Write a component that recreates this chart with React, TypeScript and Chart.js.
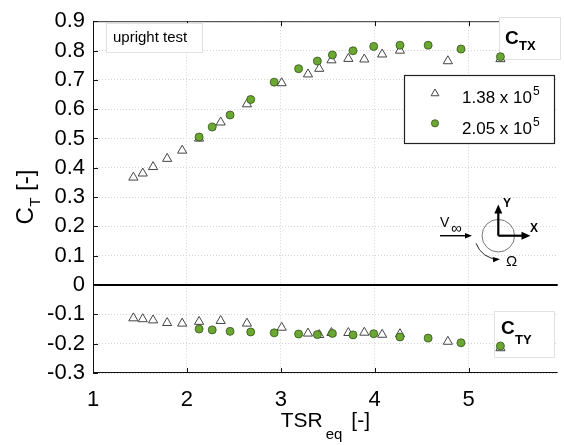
import React, { useEffect, useRef } from 'react';
import { Chart, registerables } from 'chart.js';

Chart.register(...registerables);

// ---- data ----
const tsrLow = [1.43, 1.53, 1.64, 1.79, 1.95, 2.13, 2.36, 2.64, 3.01, 3.29, 3.41, 3.54, 3.72, 3.89, 4.08, 4.27, 4.78, 5.34];
const ctxLow = [0.367, 0.381, 0.403, 0.431, 0.459, 0.5, 0.555, 0.617, 0.689, 0.719, 0.738, 0.767, 0.772, 0.77, 0.787, 0.8, 0.764, 0.771];
const ctyLow = [-0.113, -0.116, -0.12, -0.129, -0.131, -0.125, -0.122, -0.131, -0.145, -0.165, -0.17, -0.163, -0.163, -0.162, -0.169, -0.167, -0.193, -0.215];

const tsrHigh = [2.13, 2.27, 2.46, 2.68, 2.93, 3.19, 3.39, 3.55, 3.77, 3.99, 4.27, 4.57, 4.92, 5.34];
const ctxHigh = [0.505, 0.539, 0.58, 0.633, 0.692, 0.738, 0.764, 0.785, 0.799, 0.814, 0.818, 0.818, 0.805, 0.779];
const ctyHigh = [-0.15, -0.153, -0.158, -0.16, -0.163, -0.167, -0.169, -0.165, -0.17, -0.166, -0.177, -0.181, -0.197, -0.208];

const xTicks = [1, 2, 3, 4, 5];
const yTicks = [-0.3, -0.2, -0.1, 0, 0.1, 0.2, 0.3, 0.4, 0.5, 0.6, 0.7, 0.8, 0.9];
const seriesLabels = ['1.38 x 10', '2.05 x 10'];
const seriesExp = '5';

const FONT = '"Liberation Sans", Arial, Helvetica, sans-serif';
const GREEN = '#6aa832';
const GREEN_EDGE = '#34521a';

function line(ctx: CanvasRenderingContext2D, x1: number, y1: number, x2: number, y2: number) {
  ctx.beginPath();
  ctx.moveTo(x1, y1);
  ctx.lineTo(x2, y2);
  ctx.stroke();
}

function arrowHead(ctx: CanvasRenderingContext2D, tx: number, ty: number, ang: number, len: number, wid: number) {
  const c = Math.cos(ang), s = Math.sin(ang);
  const bx = tx - c * len, by = ty - s * len;
  ctx.beginPath();
  ctx.moveTo(tx, ty);
  ctx.lineTo(bx - s * wid / 2, by + c * wid / 2);
  ctx.lineTo(bx + s * wid / 2, by - c * wid / 2);
  ctx.closePath();
  ctx.fill();
}

function triangle(ctx: CanvasRenderingContext2D, cx: number, cy: number, r: number) {
  ctx.beginPath();
  ctx.moveTo(cx, cy - r);
  ctx.lineTo(cx + r * Math.sin((2 * Math.PI) / 3), cy + r * 0.5);
  ctx.lineTo(cx - r * Math.sin((2 * Math.PI) / 3), cy + r * 0.5);
  ctx.closePath();
}

const decor = {
  id: 'decor',
  beforeDatasetsDraw(chart: any) {
    const { ctx, chartArea: a, scales } = chart;
    const x = scales.x, y = scales.y;
    ctx.save();
    // zero line
    const y0 = y.getPixelForValue(0);
    ctx.strokeStyle = '#000';
    ctx.lineWidth = 2;
    line(ctx, a.left, y0, a.right, y0);
    // axes frame
    ctx.lineWidth = 1;
    ctx.strokeStyle = '#111';
    line(ctx, a.left + 0.5, a.top, a.left + 0.5, a.bottom);
    line(ctx, a.left, a.bottom - 0.5, a.right, a.bottom - 0.5);
    ctx.strokeStyle = '#333';
    line(ctx, a.left, a.top + 0.5, a.right, a.top + 0.5);
    // inward ticks
    ctx.strokeStyle = '#111';
    yTicks.forEach((v) => {
      const py = Math.round(y.getPixelForValue(v)) + 0.5;
      line(ctx, a.left, py, a.left + 5, py);
    });
    xTicks.forEach((v) => {
      const px = Math.round(x.getPixelForValue(v)) + 0.5;
      line(ctx, px, a.bottom, px, a.bottom - 5);
      line(ctx, px, a.top, px, a.top + 5);
    });

    // "upright test" box
    ctx.fillStyle = '#fff';
    ctx.strokeStyle = '#e2e2e2';
    ctx.fillRect(106, 23, 96, 29);
    ctx.strokeRect(106.5, 23.5, 96, 29);
    ctx.fillStyle = '#000';
    ctx.font = `15px ${FONT}`;
    ctx.textBaseline = 'alphabetic';
    ctx.textAlign = 'left';
    ctx.fillText('upright test', 113, 42);

    // C_TX box
    ctx.fillStyle = '#fff';
    ctx.fillRect(499, 17, 61, 42);
    ctx.strokeStyle = '#e2e2e2';
    ctx.strokeRect(499.5, 17.5, 61, 42);
    ctx.fillStyle = '#000';
    ctx.font = `bold 19px ${FONT}`;
    ctx.fillText('C', 505, 43.5);
    ctx.font = `bold 13px ${FONT}`;
    ctx.fillText('TX', 519, 49.5);

    // C_TY box
    ctx.fillStyle = '#fff';
    ctx.fillRect(494, 311, 60, 46);
    ctx.strokeStyle = '#e2e2e2';
    ctx.strokeRect(494.5, 311.5, 60, 46);
    ctx.fillStyle = '#000';
    ctx.font = `bold 19px ${FONT}`;
    ctx.fillText('C', 501, 333.5);
    ctx.font = `bold 13px ${FONT}`;
    ctx.fillText('TY', 515, 343.5);

    // coordinate system sketch
    const cx = 498.3, cy = 235.7;
    ctx.fillStyle = '#000';
    ctx.strokeStyle = '#000';
    ctx.font = `14px ${FONT}`;
    ctx.fillText('V', 440, 227);
    ctx.font = `15px ${FONT}`;
    ctx.fillText('\u221e', 451, 233);
    ctx.lineWidth = 1.4;
    line(ctx, 440, cy, 466, cy);
    arrowHead(ctx, 472, cy, 0, 7, 5.5);
    ctx.strokeStyle = '#777';
    ctx.lineWidth = 1;
    ctx.beginPath();
    ctx.arc(cx, cy, 16.3, 0, Math.PI * 2);
    ctx.stroke();
    ctx.strokeStyle = '#000';
    ctx.lineWidth = 2.2;
    line(ctx, cx, cy, cx, 212);
    arrowHead(ctx, cx, 204.5, -Math.PI / 2, 9, 8);
    line(ctx, cx, cy, 522, cy);
    arrowHead(ctx, 530.5, cy, 0, 9, 8);
    ctx.font = `bold 12px ${FONT}`;
    ctx.fillText('Y', 503, 207);
    ctx.fillText('X', 530, 232);
    // rotation arrow
    ctx.strokeStyle = '#222';
    ctx.lineWidth = 1;
    const R = 23.5;
    const a0 = (161 * Math.PI) / 180, a1 = (90 * Math.PI) / 180;
    ctx.beginPath();
    ctx.arc(cx, cy, R, a0, a1, true);
    ctx.stroke();
    const ta = (86 * Math.PI) / 180;
    arrowHead(ctx, cx + R * Math.cos(ta), cy + R * Math.sin(ta), Math.atan2(-Math.cos(ta), Math.sin(ta)), 7, 5.5);
    ctx.font = `15px ${FONT}`;
    ctx.fillText('\u03a9', 506, 265.5);
    ctx.restore();
  },
  afterDatasetsDraw(chart: any) {
    const { ctx, chartArea: a } = chart;
    ctx.save();
    // legend
    ctx.fillStyle = '#fff';
    ctx.fillRect(404, 75, 150, 68);
    ctx.strokeStyle = '#222';
    ctx.lineWidth = 1.2;
    ctx.strokeRect(404.5, 75.5, 150, 68);
    // triangle entry
    triangle(ctx, 435, 93.5, 4.5);
    ctx.fillStyle = '#fff';
    ctx.fill();
    ctx.strokeStyle = '#444';
    ctx.lineWidth = 1;
    ctx.stroke();
    // circle entry
    ctx.beginPath();
    ctx.arc(435, 123.3, 3.6, 0, Math.PI * 2);
    ctx.fillStyle = GREEN;
    ctx.fill();
    ctx.strokeStyle = GREEN_EDGE;
    ctx.lineWidth = 0.8;
    ctx.stroke();
    ctx.fillStyle = '#000';
    ctx.textAlign = 'left';
    ctx.textBaseline = 'alphabetic';
    [0, 1].forEach((i) => {
      const by = i === 0 ? 103 : 133.5;
      ctx.font = `17px ${FONT}`;
      ctx.fillText(seriesLabels[i], 462, by);
      const w = ctx.measureText(seriesLabels[i]).width;
      ctx.font = `12px ${FONT}`;
      ctx.fillText(seriesExp, 462 + w + 1, by - 8);
    });

    // x-axis title: TSR_eq [-]
    const midX = (a.left + a.right) / 2;
    ctx.font = `21px ${FONT}`;
    const wT = ctx.measureText('TSR').width;
    const wB = ctx.measureText('[-]').width;
    ctx.font = `15px ${FONT}`;
    const wE = ctx.measureText('eq').width;
    const total = wT + 3 + wE + 9 + wB;
    let sx = midX - total / 2;
    ctx.font = `21px ${FONT}`;
    ctx.fillText('TSR', sx, 427);
    ctx.font = `15px ${FONT}`;
    ctx.fillText('eq', sx + wT + 3, 439);
    ctx.font = `21px ${FONT}`;
    ctx.fillText('[-]', sx + wT + 3 + wE + 9, 427);

    // y-axis title: C_T [-] (rotated)
    ctx.save();
    ctx.translate(33, 197);
    ctx.rotate(-Math.PI / 2);
    ctx.font = `24px ${FONT}`;
    const wC = ctx.measureText('C').width;
    const wBr = ctx.measureText('[-]').width;
    ctx.font = `15px ${FONT}`;
    const wSub = ctx.measureText('T').width;
    const tot = wC + wSub + 7 + wBr;
    const s0 = -tot / 2;
    ctx.font = `24px ${FONT}`;
    ctx.fillText('C', s0, 0);
    ctx.font = `15px ${FONT}`;
    ctx.fillText('T', s0 + wC + 0.5, 7);
    ctx.font = `24px ${FONT}`;
    ctx.fillText('[-]', s0 + wC + wSub + 7, 0);
    ctx.restore();
    ctx.restore();
  },
};

export default function App() {
  const ref = useRef<HTMLCanvasElement>(null);
  useEffect(() => {
    const canvas = ref.current!;
    const chart = new Chart(canvas, {
      type: 'scatter',
      data: {
        datasets: [
          {
            label: seriesLabels[0] + ' CTX',
            data: tsrLow.map((x, i) => ({ x, y: ctxLow[i] })),
            pointStyle: 'triangle',
            pointRadius: 5.3,
            backgroundColor: '#fff',
            borderColor: '#444',
            borderWidth: 1,
            order: 2,
          },
          {
            label: seriesLabels[0] + ' CTY',
            data: tsrLow.map((x, i) => ({ x, y: ctyLow[i] })),
            pointStyle: 'triangle',
            pointRadius: 5.3,
            backgroundColor: '#fff',
            borderColor: '#444',
            borderWidth: 1,
            order: 2,
          },
          {
            label: seriesLabels[1] + ' CTX',
            data: tsrHigh.map((x, i) => ({ x, y: ctxHigh[i] })),
            pointStyle: 'circle',
            pointRadius: 4,
            backgroundColor: GREEN,
            borderColor: GREEN_EDGE,
            borderWidth: 0.8,
            order: 1,
          },
          {
            label: seriesLabels[1] + ' CTY',
            data: tsrHigh.map((x, i) => ({ x, y: ctyHigh[i] })),
            pointStyle: 'circle',
            pointRadius: 4,
            backgroundColor: GREEN,
            borderColor: GREEN_EDGE,
            borderWidth: 0.8,
            order: 1,
          },
        ],
      },
      options: {
        animation: false,
        responsive: false,
        maintainAspectRatio: false,
        layout: { padding: { top: 13, right: 0, left: 0, bottom: 0 } },
        plugins: { legend: { display: false }, tooltip: { enabled: false } },
        scales: {
          x: {
            type: 'linear',
            min: 1,
            max: 5.95,
            afterBuildTicks: (s: any) => {
              s.ticks = xTicks.map((v) => ({ value: v }));
            },
            afterFit: (s: any) => {
              s.height = 72;
            },
            ticks: {
              font: { family: FONT, size: 22 },
              color: '#000',
              padding: 14,
              maxRotation: 0,
              autoSkip: false,
              callback: (v: any) => String(v),
            },
            grid: { color: '#d4d4d4', lineWidth: 1, drawTicks: false },
            border: { display: false, dash: [1, 2] },
          },
          y: {
            type: 'linear',
            min: -0.3,
            max: 0.9,
            afterBuildTicks: (s: any) => {
              s.ticks = yTicks.map((v) => ({ value: v }));
            },
            afterFit: (s: any) => {
              s.width = 93;
            },
            ticks: {
              font: { family: FONT, size: 22 },
              color: '#000',
              padding: 8,
              autoSkip: false,
              callback: (v: any) => (Math.abs(v) < 1e-9 ? '0' : Number(v).toFixed(1)),
            },
            grid: { color: '#d4d4d4', lineWidth: 1, drawTicks: false },
            border: { display: false, dash: [1, 2] },
          },
        },
      },
      plugins: [decor],
    } as any);
    return () => chart.destroy();
  }, []);
  return (
    <div style={{ position: 'fixed', left: 0, top: 0, width: 564, height: 445, background: '#fff' }}>
      <canvas ref={ref} width={564} height={445} style={{ display: 'block', width: 564, height: 445 }} />
    </div>
  );
}
